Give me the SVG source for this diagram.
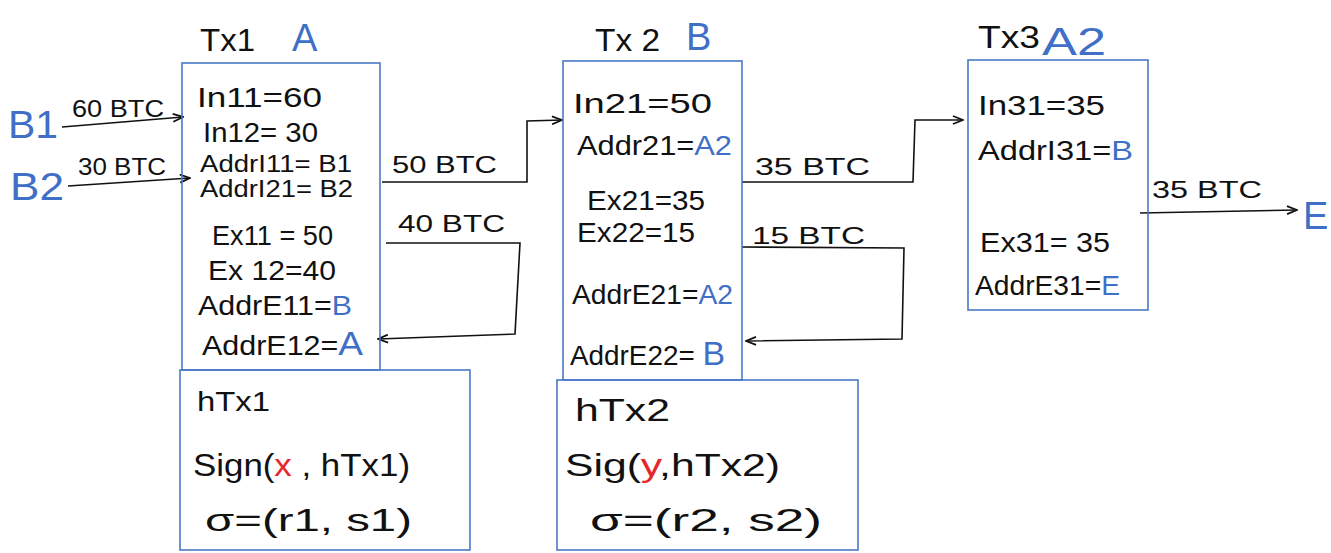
<svg xmlns="http://www.w3.org/2000/svg" width="1331" height="553" viewBox="0 0 1331 553">
<style>
.box{fill:none;stroke:#4a78c8;stroke-width:1.6}
.t{font-family:"Liberation Sans",Arial,sans-serif;font-size:28px;fill:#111}
.tb{font-family:"Liberation Sans",Arial,sans-serif;font-size:23px;fill:#111}
.ttl{font-family:"Liberation Sans",Arial,sans-serif;font-size:32px;fill:#111}
.blue{fill:#3f6fc6}
.red{fill:#e8262a}
.big{font-family:"Liberation Sans",Arial,sans-serif;font-size:38px;fill:#3f6fc6}
.c{fill:none;stroke:#111;stroke-width:1.6}
</style>
<defs>
<marker id="ah" viewBox="0 0 12 10" refX="11" refY="5" markerWidth="12" markerHeight="10" markerUnits="userSpaceOnUse" orient="auto">
<path d="M1,1 L11,5 L1,9" fill="none" stroke="#111" stroke-width="1.8"/>
</marker>
</defs>

<g id="B1"><text x="8" y="138" class="big" textLength="50" lengthAdjust="spacingAndGlyphs">B1</text></g>
<g id="B2"><text x="10" y="200" class="big" textLength="54" lengthAdjust="spacingAndGlyphs">B2</text></g>
<g id="E"><text x="1303" y="229" class="big">E</text></g>

<g id="connectors">
<path class="c" d="M62,127 L183,117" marker-end="url(#ah)"/>
<text x="72" y="117" class="tb" textLength="92" lengthAdjust="spacingAndGlyphs">60 BTC</text>
<path class="c" d="M68,186 L190,178" marker-end="url(#ah)"/>
<text x="78" y="175" class="tb" textLength="88" lengthAdjust="spacingAndGlyphs">30 BTC</text>

<path class="c" d="M382,182 L527,182 L527,121 L562,120" marker-end="url(#ah)"/>
<text x="392" y="173" class="tb" textLength="105" lengthAdjust="spacingAndGlyphs">50 BTC</text>

<path class="c" d="M386,243 L520,243 L515,334 L378,339" marker-end="url(#ah)"/>
<text x="398" y="232" class="tb" textLength="107" lengthAdjust="spacingAndGlyphs">40 BTC</text>

<path class="c" d="M742,182 L913,182 L915,120 L963,120" marker-end="url(#ah)"/>
<text x="755" y="175" class="tb" textLength="115" lengthAdjust="spacingAndGlyphs">35 BTC</text>

<path class="c" d="M742,247 L904,248 L902,339 L746,341" marker-end="url(#ah)"/>
<text x="752" y="244" class="tb" textLength="113" lengthAdjust="spacingAndGlyphs">15 BTC</text>

<path class="c" d="M1140,213 L1297,210" marker-end="url(#ah)"/>
<text x="1152" y="198" class="tb" textLength="110" lengthAdjust="spacingAndGlyphs">35 BTC</text>
</g>

<g id="Tx1">
<text x="200" y="51" class="ttl" textLength="55" lengthAdjust="spacingAndGlyphs">Tx1</text>
<text x="292" y="51" class="big">A</text>
<rect class="box" x="182" y="63" width="198" height="307"/>
<text x="197" y="107" class="t" textLength="125" lengthAdjust="spacingAndGlyphs">In11=60</text>
<text x="203" y="142" class="t" textLength="115" lengthAdjust="spacingAndGlyphs">In12= 30</text>
<text x="200" y="172" class="tb" textLength="152" lengthAdjust="spacingAndGlyphs">AddrI11= B1</text>
<text x="200" y="197" class="tb" textLength="153" lengthAdjust="spacingAndGlyphs">AddrI21= B2</text>
<text x="212" y="245" class="t" textLength="121" lengthAdjust="spacingAndGlyphs">Ex11 = 50</text>
<text x="208" y="280" class="t" textLength="128" lengthAdjust="spacingAndGlyphs">Ex 12=40</text>
<text x="198" y="315" class="t" textLength="154" lengthAdjust="spacingAndGlyphs">AddrE11=<tspan class="blue">B</tspan></text>
<text x="202" y="355" class="t" textLength="161" lengthAdjust="spacingAndGlyphs">AddrE12=<tspan class="blue" font-size="34">A</tspan></text>
</g>

<g id="hTx1">
<rect class="box" x="180" y="370" width="290" height="180"/>
<text x="197" y="411" class="t" textLength="73" lengthAdjust="spacingAndGlyphs">hTx1</text>
<text x="193" y="476" class="ttl" textLength="217" lengthAdjust="spacingAndGlyphs">Sign(<tspan class="red">x</tspan> , hTx1)</text>
<text x="205" y="531" class="ttl" textLength="207" lengthAdjust="spacingAndGlyphs">σ=(r1, s1)</text>
</g>

<g id="Tx2">
<text x="595" y="51" class="ttl" textLength="65" lengthAdjust="spacingAndGlyphs">Tx 2</text>
<text x="686" y="50" class="big">B</text>
<rect class="box" x="563" y="61" width="179" height="319"/>
<text x="573" y="113" class="t" textLength="139" lengthAdjust="spacingAndGlyphs">In21=50</text>
<text x="577" y="155" class="t" textLength="155" lengthAdjust="spacingAndGlyphs">Addr21=<tspan class="blue">A2</tspan></text>
<text x="587" y="210" class="t" textLength="118" lengthAdjust="spacingAndGlyphs">Ex21=35</text>
<text x="577" y="242" class="t" textLength="118" lengthAdjust="spacingAndGlyphs">Ex22=15</text>
<text x="572" y="304" class="t" textLength="161" lengthAdjust="spacingAndGlyphs">AddrE21=<tspan class="blue">A2</tspan></text>
<text x="570" y="365" class="t" textLength="155" lengthAdjust="spacingAndGlyphs">AddrE22= <tspan class="blue" font-size="34">B</tspan></text>
</g>

<g id="hTx2">
<rect class="box" x="557" y="380" width="301" height="170"/>
<text x="575" y="421" class="ttl" textLength="95" lengthAdjust="spacingAndGlyphs">hTx2</text>
<text x="565" y="476" class="ttl" textLength="215" lengthAdjust="spacingAndGlyphs">Sig(<tspan class="red">y</tspan>,hTx2)</text>
<text x="590" y="531" class="ttl" textLength="232" lengthAdjust="spacingAndGlyphs">σ=(r2, s2)</text>
</g>

<g id="Tx3">
<text x="978" y="48" class="ttl" textLength="62" lengthAdjust="spacingAndGlyphs">Tx3</text>
<text x="1042" y="55" class="big" textLength="64" lengthAdjust="spacingAndGlyphs">A2</text>
<rect class="box" x="968" y="60" width="180" height="250"/>
<text x="978" y="115" class="t" textLength="127" lengthAdjust="spacingAndGlyphs">In31=35</text>
<text x="978" y="160" class="t" textLength="155" lengthAdjust="spacingAndGlyphs">AddrI31=<tspan class="blue">B</tspan></text>
<text x="980" y="252" class="t" textLength="130" lengthAdjust="spacingAndGlyphs">Ex31= 35</text>
<text x="975" y="295" class="t" textLength="145" lengthAdjust="spacingAndGlyphs">AddrE31=<tspan class="blue">E</tspan></text>
</g>
</svg>
